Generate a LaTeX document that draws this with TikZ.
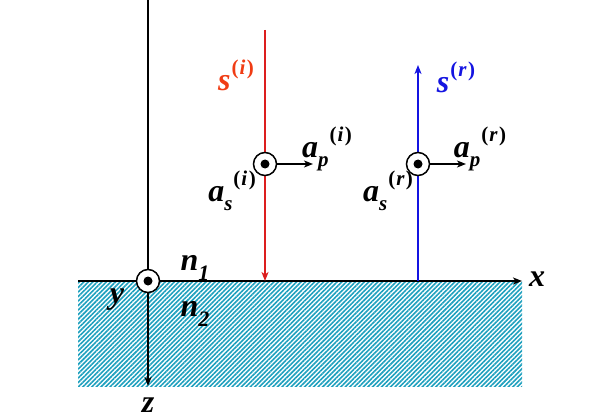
\documentclass[tikz,border=0pt]{standalone}
\usepackage{fontspec}
\setmainfont{Liberation Serif}
\usetikzlibrary{patterns.meta,arrows.meta}
\definecolor{hatchcol}{RGB}{30,160,190}
\definecolor{incred}{RGB}{220,30,30}
\definecolor{inclbl}{RGB}{240,60,20}
\definecolor{reflblue}{RGB}{20,20,225}
\newcommand{\fieldlbl}[3]{#1\raisebox{-.3em}{\fontsize{21}{21}\selectfont #2}\raisebox{.5em}{\fontsize{21}{21}\selectfont\kern1pt{\upshape(}\kern1pt#3\kern1.5pt{\upshape)}}}
\tikzset{
  lbl/.style={font=\fontsize{32}{34}\selectfont\bfseries\itshape, inner sep=0pt},
  dotcirc/.style={circle, draw, line width=1.5pt, minimum size=23pt, inner sep=0pt, fill=white,
    path picture={\fill[black] (path picture bounding box.center) circle (4.5pt);}},
  axis/.style={line width=1.6pt, -{Stealth[length=9pt,width=7pt,inset=2.5pt]}},
  ray/.style={line width=1.3pt, -{Stealth[length=9pt,width=7pt,inset=2.5pt]}},
}
\begin{document}
\begin{tikzpicture}[x=1pt,y=-1pt]
    \useasboundingbox (0,0) rectangle (606,420);
    \fill[pattern={Lines[angle=45,distance=3.2pt,line width=1.6pt]}, pattern color=hatchcol] (78,281) rectangle (522,386);
    \coordinate (ztop) at (148,0);
    \coordinate (zend) at (148,386);
    \coordinate (xstart) at (78,281);
    \coordinate (xend) at (522,281);
    \coordinate (itop) at (265,30);
    \coordinate (ihit) at (265,281);
    \coordinate (rbase) at (418,281);
    \coordinate (rtop) at (418,65);
    \draw[axis] (xstart) -- (xend);
    \draw[axis] (ztop) -- (zend);
    \draw[ray, incred] (itop) -- (ihit);
    \draw[ray, reflblue] (rbase) -- (rtop);
    \node[dotcirc] (origin) at (148,281) {};
    \node[dotcirc] (ai) at (265,164) {};
    \node[dotcirc] (ar) at (418,164) {};
    \coordinate (apiend) at (313,164);
    \coordinate (aprend) at (466,164);
    \draw[ray] (ai) -- (apiend);
    \draw[ray] (ar) -- (aprend);
    \node[lbl, text=inclbl] (si) at (236,80) {\fieldlbl{s}{}{i}};
    \node[lbl, text=reflblue] (sr) at (456,82) {\fieldlbl{s}{}{r}};
    \node[lbl] (api) at (327,149) {\fieldlbl{a}{p}{i}};
    \node[lbl] (asi) at (232,191) {\fieldlbl{a}{s}{i}};
    \node[lbl] (apr) at (480,149) {\fieldlbl{a}{p}{r}};
    \node[lbl] (asr) at (388,191) {\fieldlbl{a}{s}{r}};
    \node[lbl] (n1) at (195,268) {n\raisebox{-.3em}{\fontsize{22}{22}\selectfont 1}};
    \node[lbl] (n2) at (195,314) {n\raisebox{-.3em}{\fontsize{22}{22}\selectfont 2}};
    \node[lbl] (ylbl) at (117,300) {y};
    \node[lbl] (xlbl) at (537,279) {x};
    \node[lbl] (zlbl) at (148,405) {z};
\end{tikzpicture}
\end{document}
